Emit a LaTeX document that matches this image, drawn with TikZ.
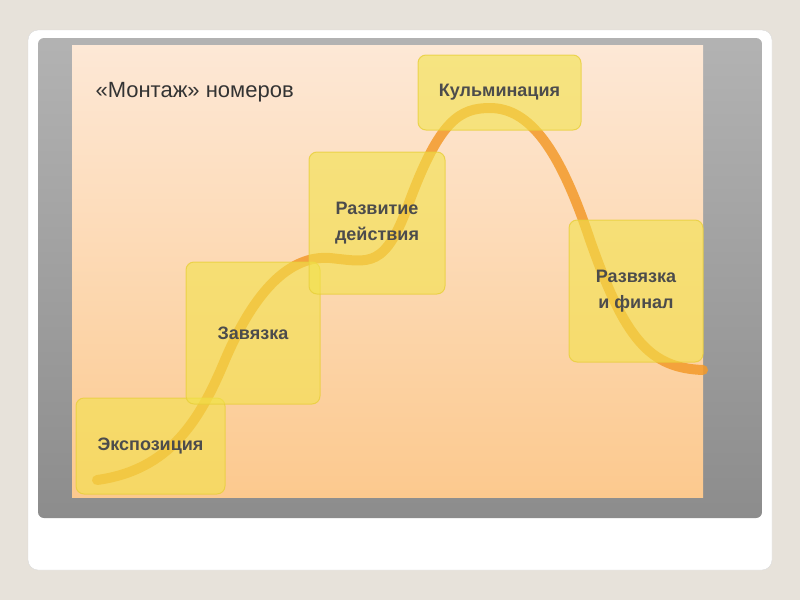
\documentclass[tikz,border=0pt]{standalone}
\usepackage{fontspec}
\setmainfont{Liberation Sans}
\usetikzlibrary{positioning}
\definecolor{pagebg}{HTML}{E7E2DA}
\definecolor{peachtop}{HTML}{FDE8D6}
\definecolor{peachbot}{HTML}{FCC98E}
\definecolor{boxyellow}{HTML}{F2E24A}
\definecolor{boxedge}{HTML}{E8CF3A}
\definecolor{curveorange}{HTML}{F39A2A}
\tikzset{
  stagebox/.style={draw=boxedge,fill=boxyellow,fill opacity=0.6,draw opacity=0.8,text opacity=1,
    rounded corners=8pt,line width=1pt,align=center,text=black!70,
    font=\fontsize{18}{26}\selectfont\bfseries},
}
\begin{document}
\begin{tikzpicture}[x=1pt,y=-1pt]
  \useasboundingbox (0,0) rectangle (800,600);
  \fill[pagebg] (0,0) rectangle (800,600);
  \draw[draw=black!15,fill=white,rounded corners=10pt] (28,30) rectangle (772,570);
  \shade[top color=black!30,bottom color=black!45,rounded corners=6pt] (38,38) rectangle (762,518);
  \shade[top color=peachtop,bottom color=peachbot] (72,45) rectangle (703,497);

  % curve
  \draw[curveorange,opacity=0.85,line width=10pt,line cap=round]
    (97,480) .. controls (170,470) and (200,420) .. (225,360)
    .. controls (255,290) and (290,255) .. (330,258)
    .. controls (370,262) and (385,270) .. (410,200)
    .. controls (440,120) and (460,108) .. (490,108)
    .. controls (530,108) and (560,150) .. (590,240)
    .. controls (625,340) and (650,368) .. (703,370);

  \node[stagebox,minimum width=149pt,minimum height=96pt] (expo) at (150.5,446) {Экспозиция};
  \node[stagebox,minimum width=134pt,minimum height=142pt] (zav) at (253,333) {Завязка};
  \node[stagebox,minimum width=136pt,minimum height=142pt] (razv) at (377,223) {Развитие\\действия};
  \node[stagebox,minimum width=163pt,minimum height=75pt] (kulm) at (499.5,92.5) {Кульминация};
  \node[stagebox,minimum width=134pt,minimum height=142pt] (final) at (636,291) {Развязка\\и финал};

  \node[anchor=west,font=\fontsize{22}{26}\selectfont,text=black!80] (title) at (92,92) {«Монтаж» номеров};
\end{tikzpicture}
\end{document}
